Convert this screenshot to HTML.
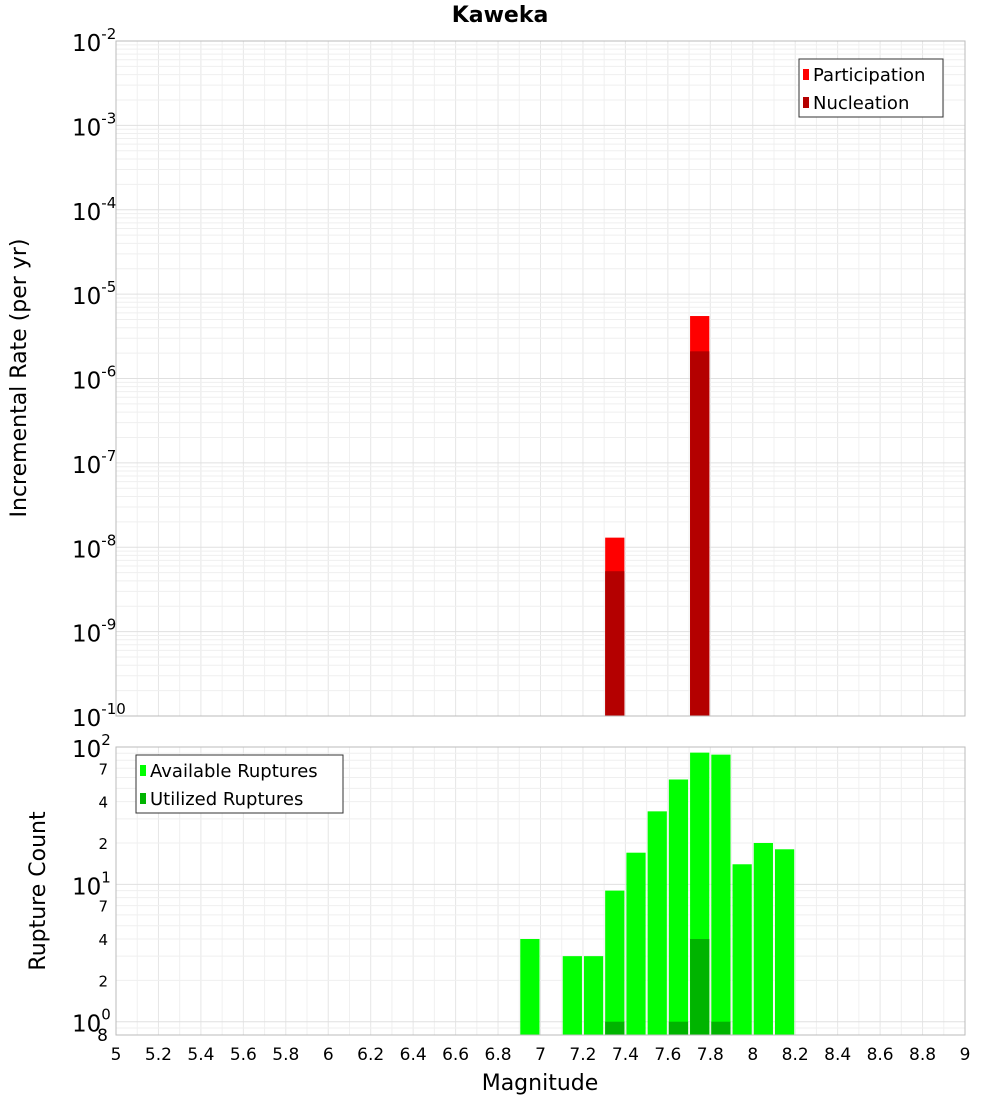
<!DOCTYPE html>
<html><head><meta charset="utf-8"><style>
body{margin:0;background:#fff;font-family:"Liberation Sans","DejaVu Sans",sans-serif}
svg text{font-family:"DejaVu Sans","Liberation Sans",sans-serif}
</style></head><body>
<svg id="c" width="1000" height="1100">
<text x="500" y="22" text-anchor="middle" font-size="22" font-weight="bold">Kaweka</text>
<g id="top"></g>
<g id="bot"></g>
<text transform="translate(26,378) rotate(-90)" text-anchor="middle" font-size="22">Incremental Rate (per yr)</text>
<text transform="translate(45,891) rotate(-90)" text-anchor="middle" font-size="22">Rupture Count</text>
<text x="540" y="1090" text-anchor="middle" font-size="22">Magnitude</text>
</svg>
<script>
const topMags=[7.35,7.75];
const participation=[1.3e-8,5.5e-6];
const nucleation=[5.2e-9,2.1e-6];
const botMags=[6.95,7.15,7.25,7.35,7.45,7.55,7.65,7.75,7.85,7.95,8.05,8.15];
const available=[4,3,3,9,17,34,58,91,88,14,20,18];
const utilMags=[7.35,7.65,7.75,7.85];
const utilized=[1,1,4,1];
const xTicks=[5,5.2,5.4,5.6,5.8,6,6.2,6.4,6.6,6.8,7,7.2,7.4,7.6,7.8,8,8.2,8.4,8.6,8.8,9];
const topDecades=[-10,-9,-8,-7,-6,-5,-4,-3,-2];
const NS="http://www.w3.org/2000/svg";
const X0=116,X1=965;
const xs=m=>X0+(m-5)/4*(X1-X0);
const T0=41,T1=716;
const yT=v=>T1-(Math.log10(v)+10)/8*(T1-T0);
const B0=747,B1=1035,bmin=Math.log10(0.8);
const yB=v=>B1-(Math.log10(v)-bmin)/(2-bmin)*(B1-B0);
function mk(p,tag,a,t){const e=document.createElementNS(NS,tag);for(const k in a)e.setAttribute(k,a[k]);if(t!==undefined)e.textContent=t;p.appendChild(e);return e;}
const gTop=document.getElementById('top'),gBot=document.getElementById('bot');
for(const t of xTicks){
 for(const g of [gTop,gBot]){
  const l=mk(g,'line',{x1:xs(t),x2:xs(t),y1:g===gTop?T0:B0,y2:g===gTop?T1:B1,stroke:'#e6e6e6'});
  
  
 }
 if(t<9){
  const l2=mk(gTop,'line',{x1:xs(t+0.1),x2:xs(t+0.1),y1:T0,y2:T1,stroke:'#f0f0f0'});
  
  
  const l3=mk(gBot,'line',{x1:xs(t+0.1),x2:xs(t+0.1),y1:B0,y2:B1,stroke:'#f0f0f0'});
  
  
 }
}
for(let d=-10;d<-2;d++)for(let k=1;k<10;k++){const y=yT(k*Math.pow(10,d));
 const l=mk(gTop,'line',{x1:X0,x2:X1,y1:y,y2:y,stroke:k==1?'#e0e0e0':'#efefef'});
 
 
}
for(let d=-1;d<2;d++)for(let k=1;k<10;k++){const v=k*Math.pow(10,d);if(v<0.8)continue;const y=yB(v);
 const l=mk(gBot,'line',{x1:X0,x2:X1,y1:y,y2:y,stroke:k==1?'#e0e0e0':'#efefef'});
 
 
}
topMags.forEach((m,i)=>{
 const a=xs(m-0.05)+1,w=xs(m+0.05)-xs(m-0.05)-2;
 let r=mk(gTop,'rect',{x:a,y:yT(participation[i]),width:w,height:T1-yT(participation[i]),fill:'#ff0000'});
 
 
 r=mk(gTop,'rect',{x:a,y:yT(nucleation[i]),width:w,height:T1-yT(nucleation[i]),fill:'#b40000'});
 
 
});
botMags.forEach((m,i)=>{
 const a=xs(m-0.05)+1,w=xs(m+0.05)-xs(m-0.05)-2;
 const r=mk(gBot,'rect',{x:a,y:yB(available[i]),width:w,height:B1-yB(available[i]),fill:'#00ff00'});
 
 
});
utilMags.forEach((m,i)=>{
 const a=xs(m-0.05)+1,w=xs(m+0.05)-xs(m-0.05)-2;
 const r=mk(gBot,'rect',{x:a,y:yB(utilized[i]),width:w,height:B1-yB(utilized[i]),fill:'#00b400'});
 
 
});
mk(gTop,'rect',{x:X0,y:T0,width:X1-X0,height:T1-T0,fill:'none',stroke:'#bbb'});
mk(gBot,'rect',{x:X0,y:B0,width:X1-X0,height:B1-B0,fill:'none',stroke:'#bbb'});
topDecades.forEach(d=>{const y=yT(Math.pow(10,d));
 const t=mk(gTop,'text',{x:72,y:y+10,'font-size':23});
 
 
 mk(t,'tspan',{},'10');mk(t,'tspan',{dy:-12,'font-size':15},String(d));
});
[[100,'2'],[10,'1'],[1,'0']].forEach(([v,e])=>{const y=yB(v);
 const t=mk(gBot,'text',{x:72,y:y+10,'font-size':23});
 
 
 mk(t,'tspan',{},'10');mk(t,'tspan',{dy:-12,'font-size':15},e);});
[7,4,2].forEach(k=>[10,1].forEach(s=>{const t=mk(gBot,'text',{x:108,y:yB(k*s)+6,'font-size':15,'text-anchor':'end'},String(k));
 
 }));
const t8=mk(gBot,'text',{x:108,y:1041,'font-size':17,'text-anchor':'end'},'8');


xTicks.forEach(v=>{const t=mk(gBot,'text',{x:xs(v),y:1060,'font-size':17,'text-anchor':'middle'},String(v));
 
 });
function legend(g,x0,y0,w,items){mk(g,'rect',{x:x0,y:y0,width:w,height:58,fill:'#fff',stroke:'#333'});
 items.forEach((it,i)=>{const r=mk(g,'rect',{x:x0+4,y:y0+10+i*28,width:6,height:11,fill:it[1]});
 
 
 const t=mk(g,'text',{x:x0+14,y:y0+22+i*28,'font-size':18},it[0]);
 
 });}
legend(gTop,799,59,144,[['Participation','#ff0000'],['Nucleation','#b40000']]);
legend(gBot,136,755,207,[['Available Ruptures','#00ff00'],['Utilized Ruptures','#00b400']]);
</script>
</body></html>
